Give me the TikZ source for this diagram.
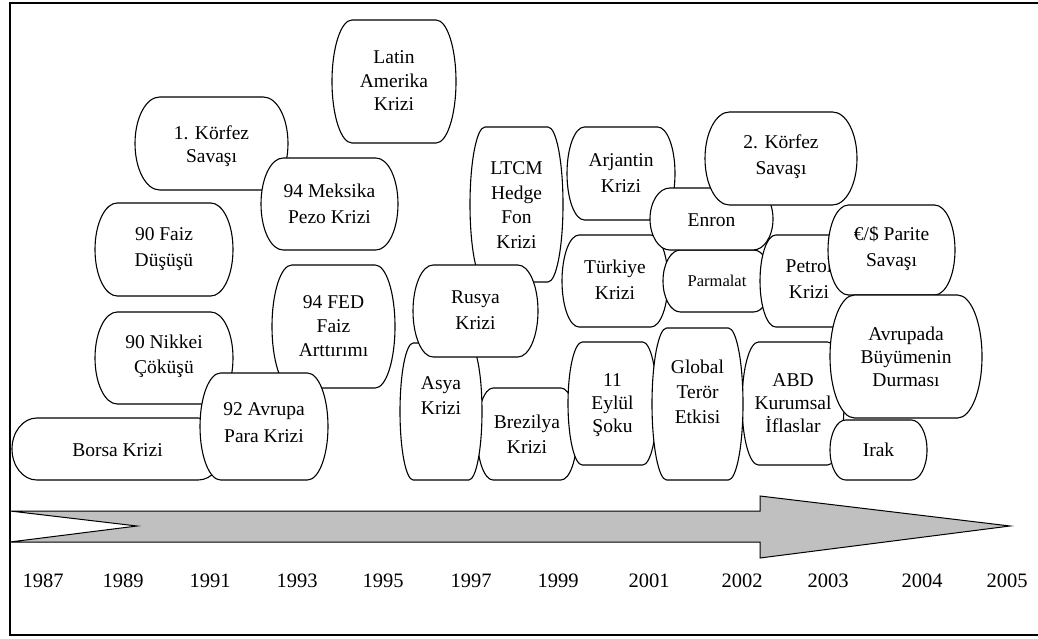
\documentclass[tikz,border=0pt]{standalone}
\usepackage{fontspec}
\setmainfont{Liberation Serif}
\definecolor{arrowgray}{HTML}{C0C0C0}
\tikzset{
  crisis/.style={draw=black, fill=white, line width=1.1pt},
  lbl/.style={inner sep=0pt, align=center},
  yearlbl/.style={inner sep=0pt, font=\fontsize{20.5}{24}\selectfont},
  frameline/.style={line width=1.5pt},
  timearrow/.style={draw=black, fill=arrowgray, line width=1pt, line join=miter}
}
% #1 name, #2 x1, #3 y1, #4 x2, #5 y2, #6 text y, #7 baselineskip, #8 text
\newcommand\cbox[8]{%
  \pgfmathsetmacro\cbW{#4-#2}%
  \pgfmathsetmacro\cbH{#5-#3}%
  \pgfmathsetmacro\cbRX{min(0.161*\cbW,0.4*\cbH)}%
  \pgfmathsetmacro\cbRY{\cbH/2}%
  \pgfmathsetmacro\cbXm{(#2+#4)/2}%
  \pgfmathsetmacro\cbYm{(#3+#5)/2}%
  \pgfmathsetmacro\cbXa{#2+\cbRX}%
  \pgfmathsetmacro\cbXb{#4-\cbRX}%
  \pgfmathsetmacro\cbXac{#2+\cbRX*(1-0.5523)}%
  \pgfmathsetmacro\cbXbc{#4-\cbRX*(1-0.5523)}%
  \pgfmathsetmacro\cbYu{\cbYm-0.5523*\cbRY}%
  \pgfmathsetmacro\cbYd{\cbYm+0.5523*\cbRY}%
  \filldraw[crisis] (\cbXa,#3) -- (\cbXb,#3)
    .. controls (\cbXbc,#3) and (#4,\cbYu) .. (#4,\cbYm)
    .. controls (#4,\cbYd) and (\cbXbc,#5) .. (\cbXb,#5)
    -- (\cbXa,#5)
    .. controls (\cbXac,#5) and (#2,\cbYd) .. (#2,\cbYm)
    .. controls (#2,\cbYu) and (\cbXac,#3) .. cycle;
  \node[lbl, font=\fontsize{19.5}{#7}\selectfont] (#1) at (\cbXm,#6) {#8};
}
\begin{document}
\begin{tikzpicture}[x=1pt,y=-1pt]
\useasboundingbox (0,0) rectangle (1038,639);
% frame
\draw[frameline] (1038,3) -- (10,3) -- (10,635) -- (1038,635);
% time arrow
\filldraw[timearrow] (10,511) -- (760,511) -- (760,496) -- (1010,526) -- (760,558) -- (760,542) -- (10,542) -- (137,526) -- cycle;
% years
\node[yearlbl] (y1987) at (43,581) {1987};
\node[yearlbl] (y1989) at (123,581) {1989};
\node[yearlbl] (y1991) at (210,581) {1991};
\node[yearlbl] (y1993) at (297,581) {1993};
\node[yearlbl] (y1995) at (383,581) {1995};
\node[yearlbl] (y1997) at (471,581) {1997};
\node[yearlbl] (y1999) at (558,581) {1999};
\node[yearlbl] (y2001) at (649,581) {2001};
\node[yearlbl] (y2002) at (742,581) {2002};
\node[yearlbl] (y2003) at (828,581) {2003};
\node[yearlbl] (y2004) at (922,581) {2004};
\node[yearlbl] (y2005) at (1007,581) {2005};
% crisis boxes (drawing order = stacking order)
\cbox{latin}{332}{20}{456}{143}{81}{23.5}{Latin\\Amerika\\Krizi}
\cbox{korfezA}{135}{97}{288}{190}{146}{23}{1. Körfez\\Savaşı}
\cbox{meksika}{261}{158}{398}{250}{204}{26}{94 Meksika\\Pezo Krizi}
\cbox{faiz}{95}{203}{233}{296}{249}{26}{90 Faiz\\Düşüşü}
\cbox{fed}{272}{265}{395}{388}{326}{24}{94 FED\\Faiz\\Arttırımı}
\cbox{nikkei}{95}{312}{233}{404}{356}{25}{90 Nikkei\\Çöküşü}
\cbox{borsa}{12}{418}{223}{480}{450}{24}{Borsa Krizi}
\cbox{avrupaA}{200}{373}{328}{480}{423}{27}{92 Avrupa\\Para Krizi}
\cbox{ltcm}{470}{127}{563}{282}{205}{24.5}{LTCM\\Hedge\\Fon\\Krizi}
\cbox{brezilya}{477}{388}{577}{480}{434}{25}{Brezilya\\Krizi}
\cbox{asya}{400}{343}{482}{480}{396}{25}{Asya\\Krizi}
\cbox{rusya}{413}{265}{538}{357}{310}{26}{Rusya\\Krizi}
\cbox{eylul}{568}{342}{657}{465}{405}{23}{11\\Eylül\\Şoku}
\cbox{arjantin}{567}{127}{675}{220}{173}{26}{Arjantin\\Krizi}
\cbox{turkiye}{562}{235}{668}{327}{280}{26}{Türkiye\\Krizi}
\cbox{parmalat}{663}{250}{771}{312}{281}{20}{\fontsize{16.5}{20}\selectfont Parmalat}
\cbox{petrol}{760}{235}{858}{327}{279}{26}{Petrol\\Krizi}
\cbox{enron}{650}{188}{773}{250}{220}{24}{Enron}
\cbox{korfezB}{705}{112}{857}{205}{157}{26}{2. Körfez\\Savaşı}
\cbox{parite}{828}{205}{955}{295}{249}{26}{€/\$ Parite\\Savaşı}
\cbox{abd}{742}{342}{844}{465}{403}{23}{ABD\\Kurumsal\\İflaslar}
\cbox{global}{652}{328}{743}{480}{392}{25}{Global\\Terör\\Etkisi}
\cbox{avrupada}{830}{295}{982}{418}{357}{23}{Avrupada\\Büyümenin\\Durması}
\cbox{irak}{830}{420}{927}{480}{450}{24}{Irak}
\end{tikzpicture}
\end{document}
